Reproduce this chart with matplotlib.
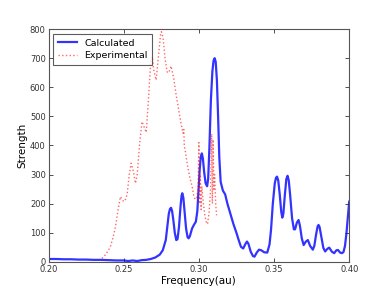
import matplotlib
matplotlib.use("Agg")
import matplotlib.pyplot as plt

calc_freq = [0.200, 0.205, 0.210, 0.215, 0.220, 0.225, 0.230, 0.235, 0.240, 0.245,
             0.250, 0.253, 0.256, 0.259, 0.262, 0.265, 0.268, 0.271, 0.274, 0.276,
             0.2780, 0.2790, 0.2800, 0.2808, 0.2815, 0.2822, 0.2830, 0.2840, 0.2850, 0.2858,
             0.2868, 0.2878, 0.2885, 0.2890, 0.2897, 0.2905, 0.2915, 0.2925, 0.2932, 0.2940,
             0.2955, 0.2968, 0.2980, 0.2990, 0.2998, 0.3006, 0.3013, 0.3020, 0.3027, 0.3035,
             0.3045, 0.3055, 0.3062, 0.3070, 0.3080, 0.3090, 0.3098, 0.3105, 0.3112, 0.3120,
             0.3128, 0.3136, 0.3145, 0.3160, 0.3175, 0.3190, 0.3210, 0.3230, 0.3250, 0.3265,
             0.3280, 0.3295, 0.3310, 0.3320, 0.3330, 0.3345, 0.3360, 0.3370, 0.3385, 0.3400,
             0.3415, 0.3435, 0.3455, 0.3470, 0.3480, 0.3492, 0.3505, 0.3513, 0.3520, 0.3528,
             0.3538, 0.3548, 0.3555, 0.3562, 0.3572, 0.3582, 0.3590, 0.3598, 0.3608, 0.3620,
             0.3632, 0.3640, 0.3652, 0.3663, 0.3672, 0.3685, 0.3697, 0.3712, 0.3725, 0.3740,
             0.3758, 0.3768, 0.3780, 0.3790, 0.3796, 0.3803, 0.3815, 0.3828, 0.3840, 0.3855,
             0.3867, 0.3885, 0.3900, 0.3915, 0.3925, 0.3940, 0.3952, 0.3962, 0.3972, 0.3982,
             0.3991, 0.4000]
calc_strength = [10, 10, 9, 9, 8, 8, 7, 7, 6, 5,
                 5, 3, 5, 3, 6, 7, 10, 15, 25, 40,
                 75, 120, 165, 182, 186, 175, 145, 100, 75, 78,
                 120, 190, 228, 236, 220, 175, 115, 85, 81, 88,
                 115, 128, 138, 175, 250, 320, 362, 373, 355, 310,
                 270, 260, 285, 390, 555, 655, 692, 700, 688, 625,
                 500, 360, 275, 245, 232, 200, 165, 130, 100, 75,
                 52, 46, 62, 70, 62, 35, 20, 18, 32, 42,
                 40, 33, 32, 60, 110, 200, 270, 289, 293, 280,
                 232, 172, 152, 165, 230, 285, 296, 280, 225, 150,
                 112, 112, 135, 144, 125, 80, 58, 70, 75, 55,
                 42, 55, 95, 122, 127, 120, 85, 48, 36, 45,
                 49, 35, 30, 40, 41, 32, 30, 34, 55, 100,
                 155, 207]

exp_freq = [0.2355, 0.2380, 0.2410, 0.2430, 0.2445, 0.2460, 0.2478, 0.2490, 0.2500, 0.2512,
            0.2523, 0.2537, 0.2550, 0.2565, 0.2578, 0.2590, 0.2605, 0.2622, 0.2635, 0.2650,
            0.2665, 0.2680, 0.2690, 0.2700, 0.2716, 0.2730, 0.2745, 0.2751, 0.2762, 0.2775,
            0.2789, 0.2800, 0.2815, 0.2833, 0.2850, 0.2866, 0.2880, 0.2895, 0.2900, 0.2903,
            0.2910, 0.2925, 0.2940, 0.2955, 0.2965, 0.2975, 0.2985, 0.2995, 0.3000, 0.3005,
            0.3010, 0.3015, 0.3020, 0.3030, 0.3040, 0.3050, 0.3058, 0.3068, 0.3078, 0.3085,
            0.3090, 0.3095, 0.3100, 0.3105, 0.3112, 0.3118]
exp_strength = [12, 25, 50, 85, 120, 170, 224, 215, 207, 215,
                232, 300, 339, 310, 270, 300, 400, 482, 465, 445,
                560, 690, 705, 660, 625, 700, 780, 791, 770, 700,
                653, 650, 673, 631, 570, 522, 480, 442, 455, 400,
                380, 330, 290, 260, 230, 215, 220, 250, 410, 200,
                300, 180, 260, 200, 160, 135, 130, 170, 250, 440,
                200, 420, 250, 300, 200, 160]

x_ticks = [0.20, 0.25, 0.30, 0.35, 0.40]
y_ticks = [0, 100, 200, 300, 400, 500, 600, 700, 800]

fig = plt.figure(figsize=(3.88, 2.91), dpi=100)
ax = fig.add_axes([0.125, 0.1, 0.775, 0.8])

ax.plot(calc_freq, calc_strength, color='#0000ff', alpha=0.8, lw=1.6, label='Calculated')
ax.plot(exp_freq, exp_strength, color='#ff0000', alpha=0.6, lw=1.0, ls=':', label='Experimental')

ax.set_xlim(0.20, 0.40)
ax.set_ylim(0, 800)
ax.set_xticks(x_ticks)
ax.set_xticklabels(['%.2f' % v for v in x_ticks])
ax.set_yticks(y_ticks)
ax.tick_params(direction='in', top=True, right=True, labelsize=6, length=3, width=0.6,
               colors='#333333', pad=2)
for sp in ax.spines.values():
    sp.set_color('#555555')
    sp.set_linewidth(0.8)
ax.set_xlabel('Frequency(au)', fontsize=7.5, labelpad=2)
ax.set_ylabel('Strength', fontsize=7.5, labelpad=2)
leg = ax.legend(loc='upper left', fontsize=6.8, frameon=True, fancybox=False,
                handlelength=2.0, borderpad=0.5, labelspacing=0.4)
leg.get_frame().set_edgecolor('#333333')
leg.get_frame().set_linewidth(0.8)

fig.savefig('out.png', dpi=100, facecolor='white')
